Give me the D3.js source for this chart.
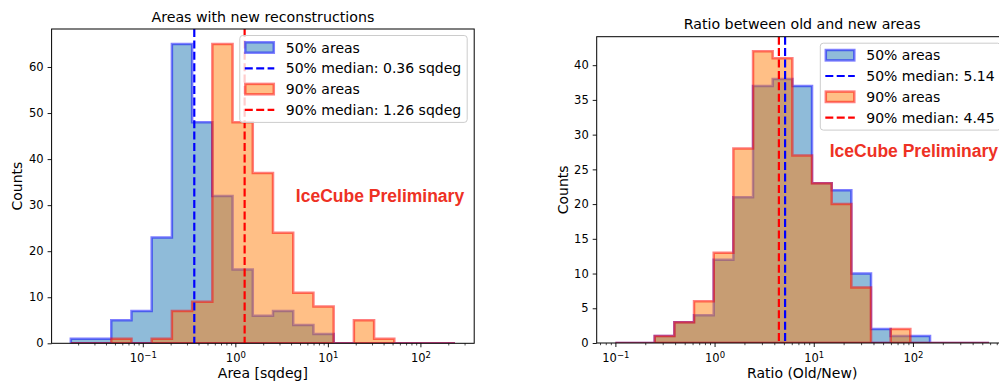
<!DOCTYPE html>
<html>
<head>
<meta charset="utf-8">
<script src="https://cdn.jsdelivr.net/npm/d3@7"></script>
<style>
  body { margin: 0; background: #fff; }
  svg { display: block; font-family: "DejaVu Sans", sans-serif; }
</style>
</head>
<body>
<div id="chart"></div>
<script>
// ---- data ----
// left panel: areas (sqdeg), log-spaced bin edges
const areaEdges = [0.01667, 0.02757, 0.0456, 0.07542, 0.1247, 0.2063, 0.3412, 0.5643, 0.9333,
    1.5435, 2.553, 4.222, 6.982, 11.55, 19.10, 31.59, 52.24, 86.41, 142.9, 236.4];
const areaCounts50 = [1, 1, 5, 7, 23, 65, 48, 32, 16, 6, 7, 4, 2, 0, 0, 0, 0, 0, 0];
const areaCounts90 = [0, 0, 1, 0, 1, 7, 9, 65, 48, 37, 24, 11, 8, 0, 5, 1, 0, 0, 0];
const areaMedian50 = 0.36;
const areaMedian90 = 1.26;

// right panel: ratio old/new
const ratioEdges = [0.1, 0.1578, 0.2491, 0.3933, 0.6209, 0.9802, 1.547, 2.443, 3.856, 6.086,
    9.607, 15.17, 23.94, 37.79, 59.66, 94.17, 148.7, 234.7, 370.5, 584.8];
const ratioCounts50 = [0, 0, 1, 3, 4, 12, 21, 37, 38, 37, 23, 22, 10, 2, 1, 1, 0, 0, 0];
const ratioCounts90 = [0, 0, 1, 3, 6, 13, 28, 42, 41, 27, 23, 20, 8, 0, 2, 0, 0, 0, 0];
const ratioMedian50 = 5.14;
const ratioMedian90 = 4.45;

const xMajorTicks = [0.1, 1, 10, 100];
const areaYTicks = [0, 10, 20, 30, 40, 50, 60];
const ratioYTicks = [0, 5, 10, 15, 20, 25, 30, 35, 40];

const svg = d3.select("#chart")
    .append("svg")
    .attr("width", 999)
    .attr("height", 384);

function drawPanel(cfg) {
    let g = svg.append("g");

    // log x with matplotlib-like 5% margins
    let lo = Math.log10(cfg.edges[0]);
    let hi = Math.log10(cfg.edges[cfg.edges.length - 1]);
    let pad = (hi - lo) * 0.05;
    let x = d3.scaleLog()
        .domain([Math.pow(10, lo - pad), Math.pow(10, hi + pad)])
        .range([cfg.left, cfg.right]);
    let yMax = d3.max(cfg.counts50.concat(cfg.counts90)) * 1.05;
    let y = d3.scaleLinear()
        .domain([0, yMax])
        .range([cfg.bottom, cfg.top]);

    let clipId = "clip_" + cfg.id;
    svg.append("clipPath").attr("id", clipId)
        .append("rect")
        .attr("x", cfg.left).attr("y", cfg.top)
        .attr("width", cfg.right - cfg.left)
        .attr("height", cfg.bottom - cfg.top);

    let plot = g.append("g").attr("clip-path", `url(#${clipId})`);

    function stepPath(edges, counts) {
        let pts = [[edges[0], 0]];
        counts.forEach((c, i) => {
            pts.push([edges[i], c]);
            pts.push([edges[i + 1], c]);
        });
        pts.push([edges[edges.length - 1], 0]);
        return d3.line().x(d => x(d[0])).y(d => y(d[1]))(pts) + "Z";
    }

    // histograms (stepfilled, alpha .5)
    plot.append("path")
        .attr("d", stepPath(cfg.edges, cfg.counts50))
        .attr("fill", "#1f77b4").attr("fill-opacity", 0.5)
        .attr("stroke", "blue").attr("stroke-opacity", 0.5)
        .attr("stroke-width", 2.5);
    plot.append("path")
        .attr("d", stepPath(cfg.edges, cfg.counts90))
        .attr("fill", "#ff7f0e").attr("fill-opacity", 0.5)
        .attr("stroke", "red").attr("stroke-opacity", 0.5)
        .attr("stroke-width", 2.5);

    // medians
    [[cfg.median50, "blue"], [cfg.median90, "red"]].forEach(m => {
        plot.append("line")
            .attr("x1", x(m[0])).attr("x2", x(m[0]))
            .attr("y1", cfg.top).attr("y2", cfg.bottom)
            .attr("stroke", m[1]).attr("stroke-width", 2.2)
            .attr("stroke-dasharray", "8,3.4");
    });

    // y axis
    let yAxis = g.append("g")
        .attr("transform", `translate(${cfg.left},0)`)
        .call(d3.axisLeft(y).tickValues(cfg.yTicks).tickSize(4).tickPadding(4));
    yAxis.attr("font-family", null).attr("font-size", null);
    yAxis.select(".domain").remove();
    yAxis.selectAll("text").style("font-size", "11.5px").attr("fill", "#000");
    yAxis.selectAll("line").attr("stroke", "#000").attr("stroke-width", 0.9);

    // x axis, major ticks with 10^n labels
    let xAxis = g.append("g")
        .attr("transform", `translate(0,${cfg.bottom})`)
        .call(d3.axisBottom(x).tickValues(xMajorTicks).tickSize(4).tickFormat(""));
    xAxis.attr("font-family", null).attr("font-size", null);
    xAxis.select(".domain").remove();
    xAxis.selectAll("line").attr("stroke", "#000").attr("stroke-width", 0.9);
    xAxis.selectAll(".tick text").each(function(d) {
        let t = d3.select(this)
            .attr("y", 19).attr("dy", 0).attr("fill", "#000")
            .style("font-size", "11.5px");
        let e = Math.round(Math.log10(d));
        t.text(null);
        t.append("tspan").text("10");
        t.append("tspan").attr("dy", "-0.45em").style("font-size", "8.5px")
            .text(String(e).replace("-", "\u2212"));
    });

    // minor ticks
    let minors = [];
    let dom = x.domain();
    for (let k = -3; k <= 3; k++) {
        for (let m = 2; m <= 9; m++) {
            let v = m * Math.pow(10, k);
            if (v > dom[0] && v < dom[1]) minors.push(v);
        }
    }
    let minorAxis = g.append("g")
        .attr("transform", `translate(0,${cfg.bottom})`)
        .call(d3.axisBottom(x).tickValues(minors).tickSize(2.2).tickFormat(""));
    minorAxis.select(".domain").remove();
    minorAxis.selectAll("line").attr("stroke", "#000").attr("stroke-width", 0.7);

    // frame
    g.append("rect")
        .attr("x", cfg.left).attr("y", cfg.top)
        .attr("width", cfg.right - cfg.left)
        .attr("height", cfg.bottom - cfg.top)
        .attr("fill", "none").attr("stroke", "#000").attr("stroke-width", 1);

    // titles and labels
    let cx = (cfg.left + cfg.right) / 2;
    g.append("text")
        .attr("x", cx).attr("y", cfg.top - 7.5)
        .attr("text-anchor", "middle").style("font-size", "14.2px")
        .text(cfg.title);
    g.append("text")
        .attr("x", cx).attr("y", 378)
        .attr("text-anchor", "middle").style("font-size", "14px")
        .text(cfg.xLabel);
    g.append("text")
        .attr("transform", `translate(${cfg.yLabelX},${(cfg.top + cfg.bottom) / 2}) rotate(-90)`)
        .attr("text-anchor", "middle").style("font-size", "14px")
        .text("Counts");

    // watermark
    g.append("text")
        .attr("x", cfg.left + cfg.markX * (cfg.right - cfg.left))
        .attr("y", cfg.bottom - cfg.markY * (cfg.bottom - cfg.top))
        .style("font-family", "'Liberation Sans', Arial, sans-serif")
        .style("font-weight", "bold").style("font-size", "17.5px")
        .attr("fill", "#ee3124")
        .text("IceCube Preliminary");

    // legend
    let items = [
        {type: "patch", fill: "#1f77b4", stroke: "blue", label: cfg.legend[0]},
        {type: "line", stroke: "blue", label: cfg.legend[1]},
        {type: "patch", fill: "#ff7f0e", stroke: "red", label: cfg.legend[2]},
        {type: "line", stroke: "red", label: cfg.legend[3]}
    ];
    let rowH = 20.8;
    let boxTop = cfg.top + 6.5;
    let leg = g.append("g");
    let box = leg.append("rect");
    let texts = [];
    items.forEach((it, i) => {
        let cy = boxTop + 12 + i * rowH;
        texts.push(leg.append("text")
            .attr("y", cy).attr("dy", "0.36em")
            .style("font-size", "14px")
            .text(it.label));
    });
    let maxW = d3.max(texts, t => t.node().getComputedTextLength());
    let boxRight = cfg.right - 7;
    let boxLeft = boxRight - (46 + maxW + 6);
    box.attr("x", boxLeft).attr("y", boxTop)
        .attr("width", boxRight - boxLeft)
        .attr("height", 12 + 3 * rowH + 12.5)
        .attr("rx", 3)
        .attr("fill", "#fff").attr("fill-opacity", 0.8)
        .attr("stroke", "#cccccc").attr("stroke-width", 1);
    texts.forEach(t => t.attr("x", boxLeft + 46));
    items.forEach((it, i) => {
        let cy = boxTop + 12 + i * rowH;
        if (it.type == "patch") {
            leg.append("rect")
                .attr("x", boxLeft + 5.5).attr("y", cy - 5.2)
                .attr("width", 28.5).attr("height", 10.4)
                .attr("fill", it.fill).attr("fill-opacity", 0.5)
                .attr("stroke", it.stroke).attr("stroke-opacity", 0.5)
                .attr("stroke-width", 2.5);
        } else {
            leg.append("line")
                .attr("x1", boxLeft + 5).attr("x2", boxLeft + 34.5)
                .attr("y1", cy).attr("y2", cy)
                .attr("stroke", it.stroke).attr("stroke-width", 2.2)
                .attr("stroke-dasharray", "8,3.4");
        }
    });
}

drawPanel({
    id: "areas",
    left: 51.6, right: 474.2, top: 29, bottom: 343.3,
    edges: areaEdges, counts50: areaCounts50, counts90: areaCounts90,
    median50: areaMedian50, median90: areaMedian90,
    yTicks: areaYTicks,
    title: "Areas with new reconstructions",
    xLabel: "Area [sqdeg]",
    yLabelX: 22.3,
    markX: 0.578, markY: 0.451,
    legend: ["50% areas", "50% median: " + areaMedian50 + " sqdeg",
             "90% areas", "90% median: " + areaMedian90 + " sqdeg"]
});

drawPanel({
    id: "ratio",
    left: 596.7, right: 1007.7, top: 36.7, bottom: 343,
    edges: ratioEdges, counts50: ratioCounts50, counts90: ratioCounts90,
    median50: ratioMedian50, median90: ratioMedian90,
    yTicks: ratioYTicks,
    title: "Ratio between old and new areas",
    xLabel: "Ratio (Old/New)",
    yLabelX: 568.3,
    markX: 0.567, markY: 0.607,
    legend: ["50% areas", "50% median: " + ratioMedian50,
             "90% areas", "90% median: " + ratioMedian90]
});
</script>
</body>
</html>
